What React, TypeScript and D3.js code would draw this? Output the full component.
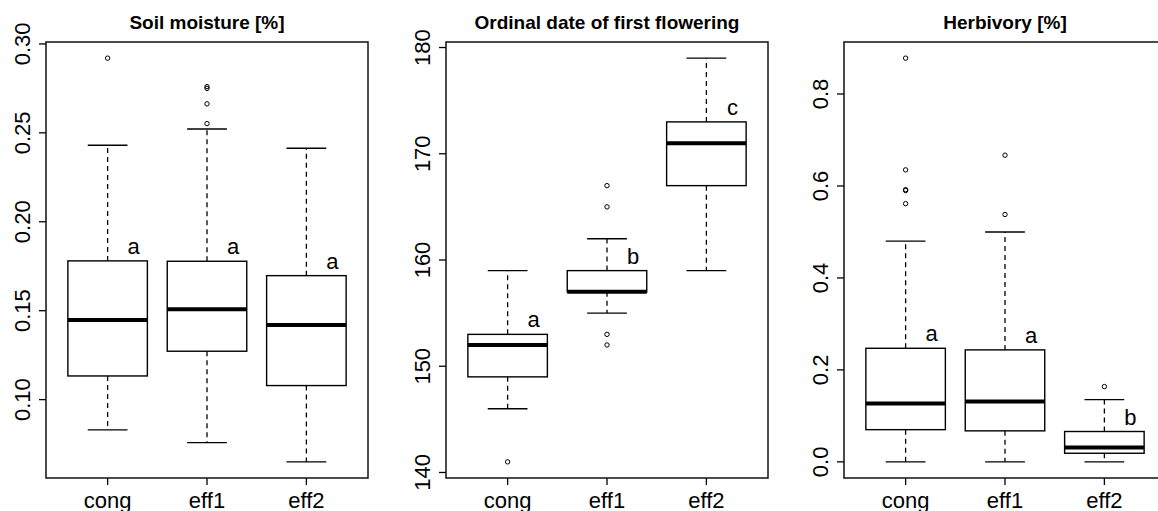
import React from "react";
import * as d3 from "d3";

// groups shared by all three panels
const groups = ["cong", "eff1", "eff2"];

// box stats per group: [lower whisker, Q1, median, Q3, upper whisker]
const soilBoxes = [
  [0.083, 0.1133, 0.1448, 0.178, 0.243],
  [0.0758, 0.1272, 0.1508, 0.1778, 0.2522],
  [0.065, 0.1079, 0.142, 0.1697, 0.2413],
];
const soilOutliers = [[0.292], [0.2552, 0.2663, 0.275, 0.276], []];
const soilLetters = ["a", "a", "a"];
const soilTicks = [0.1, 0.15, 0.2, 0.25, 0.3];

const flowerBoxes = [
  [146, 149, 152, 153, 159],
  [155, 157, 157, 159, 162],
  [159, 167, 171, 173, 179],
];
const flowerOutliers = [[141], [152, 153, 165, 167], []];
const flowerLetters = ["a", "b", "c"];
const flowerTicks = [140, 150, 160, 170, 180];

const herbBoxes = [
  [0, 0.07, 0.1267, 0.247, 0.48],
  [0, 0.0674, 0.131, 0.2435, 0.5],
  [0, 0.0187, 0.031, 0.066, 0.1354],
];
const herbOutliers = [[0.5615, 0.59, 0.592, 0.635, 0.878], [0.538, 0.667], [0.1637]];
const herbLetters = ["a", "a", "b"];
const herbTicks = [0, 0.2, 0.4, 0.6, 0.8];

const FONT = "'Liberation Sans', Arial, Helvetica, sans-serif";
const top = 42;
const bottom = 478;
const panelW = 322;

const Panel = ({ left, title, boxes, outliers, letters, ticks, fmt }: any) => {
  const right = left + panelW;
  const x = d3.scalePoint<string>().domain(groups).range([left, right]).padding(0.62);
  const step = x.step();
  const allVals = boxes.flat().concat(outliers.flat());
  const [mn, mx] = d3.extent(allVals) as [number, number];
  const ext = (mx - mn) * 0.04;
  const y = d3.scaleLinear().domain([mn - ext, mx + ext]).range([bottom, top]);
  const bw = step * 0.8;

  return (
    <g>
      <text x={(left + right) / 2} y={29} textAnchor="middle" fontFamily={FONT} fontWeight="bold" fontSize={19}>
        {title}
      </text>
      {groups.map((gname, i) => {
        const cx = x(gname) as number;
        const [lo, q1, med, q3, hi] = boxes[i];
        return (
          <g key={gname}>
            <line x1={cx} x2={cx} y1={y(q3)} y2={y(hi)} stroke="#000" strokeWidth={1.3} strokeDasharray="5,4" />
            <line x1={cx} x2={cx} y1={y(q1)} y2={y(lo)} stroke="#000" strokeWidth={1.3} strokeDasharray="5,4" />
            <line x1={cx - bw / 4} x2={cx + bw / 4} y1={y(hi)} y2={y(hi)} stroke="#000" strokeWidth={1.4} />
            <line x1={cx - bw / 4} x2={cx + bw / 4} y1={y(lo)} y2={y(lo)} stroke="#000" strokeWidth={1.4} />
            <rect x={cx - bw / 2} y={y(q3)} width={bw} height={y(q1) - y(q3)} fill="#fff" stroke="#000" strokeWidth={1.4} />
            <line x1={cx - bw / 2} x2={cx + bw / 2} y1={y(med)} y2={y(med)} stroke="#000" strokeWidth={4} />
            {outliers[i].map((v: number, j: number) => (
              <circle key={j} cx={cx} cy={y(v)} r={2.2} fill="none" stroke="#000" strokeWidth={1} />
            ))}
            <text x={cx + 26} y={y(q3) - 7} textAnchor="middle" fontFamily={FONT} fontSize={22}>
              {letters[i]}
            </text>
            <line x1={cx} x2={cx} y1={bottom} y2={bottom + 7} stroke="#000" strokeWidth={1.3} />
            <text x={cx} y={508} textAnchor="middle" fontFamily={FONT} fontSize={22}>
              {gname}
            </text>
          </g>
        );
      })}
      {ticks.map((t: number) => (
        <g key={t}>
          <line x1={left - 7} x2={left} y1={y(t)} y2={y(t)} stroke="#000" strokeWidth={1.3} />
          <text
            transform={`translate(${left - 16},${y(t)}) rotate(-90)`}
            textAnchor="middle"
            fontFamily={FONT}
            fontSize={22}
          >
            {fmt(t)}
          </text>
        </g>
      ))}
      <rect x={left} y={top} width={panelW} height={bottom - top} fill="none" stroke="#111" strokeWidth={1.5} />
    </g>
  );
};

export default function App() {
  return (
    <svg width={1158} height={511} style={{ position: "absolute", left: 0, top: 0, background: "#fff" }}>
      <rect width={1158} height={511} fill="#fff" />
      <Panel left={46} title="Soil moisture [%]" boxes={soilBoxes} outliers={soilOutliers} letters={soilLetters} ticks={soilTicks} fmt={d3.format(".2f")} />
      <Panel left={446} title="Ordinal date of first flowering" boxes={flowerBoxes} outliers={flowerOutliers} letters={flowerLetters} ticks={flowerTicks} fmt={d3.format("d")} />
      <Panel left={844} title="Herbivory [%]" boxes={herbBoxes} outliers={herbOutliers} letters={herbLetters} ticks={herbTicks} fmt={d3.format(".1f")} />
    </svg>
  );
}
